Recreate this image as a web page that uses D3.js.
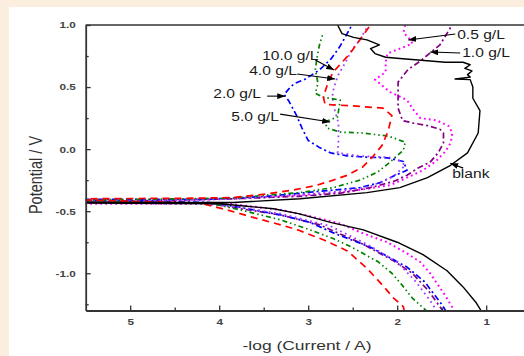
<!DOCTYPE html>
<html>
<head>
<meta charset="utf-8">
<script src="https://cdn.jsdelivr.net/npm/d3@7"></script>
<style>
  body { margin: 0; background: #fbeedf; }
  text { font-family: "Liberation Sans", Arial, sans-serif; }
</style>
</head>
<body>
<div id="chart"></div>
<script>
// Curvas de polarizacion: [-log(I/A), E/V], desde la rama catodica (abajo) hasta la anodica (arriba)
const blank = [[1.05,-1.31],[1.11,-1.24],[1.26,-1.11],[1.44,-0.98],[1.71,-0.85],[2.00,-0.75],[2.38,-0.65],[2.75,-0.59],[3.11,-0.52],[3.39,-0.48],[3.69,-0.46],[3.99,-0.44],[5.5,-0.435],
  [5.5,-0.43],[3.84,-0.43],[3.09,-0.40],[2.34,-0.35],[1.97,-0.31],[1.66,-0.23],[1.40,-0.13],[1.21,-0.03],[1.09,0.13],[1.07,0.31],[1.15,0.41],[1.15,0.50],[1.18,0.56],[1.35,0.565],[1.18,0.58],[1.21,0.60],[1.16,0.63],[1.24,0.65],[1.18,0.68],[1.26,0.70],[1.46,0.70],[1.97,0.73],[2.13,0.74],[2.25,0.77],[2.30,0.81],[2.20,0.84],[2.34,0.88],[2.49,0.90],[2.62,0.93],[2.67,1.0]];
const c05 = [[1.35,-1.31],[1.46,-1.18],[1.63,-1.00],[1.74,-0.91],[1.89,-0.84],[2.11,-0.75],[2.38,-0.68],[2.64,-0.60],[2.98,-0.54],[3.31,-0.49],[3.88,-0.44],[5.5,-0.44],
  [5.5,-0.435],[3.84,-0.40],[3.09,-0.37],[2.64,-0.35],[2.34,-0.32],[2.08,-0.29],[1.89,-0.23],[1.71,-0.17],[1.57,-0.10],[1.46,-0.02],[1.40,0.05],[1.38,0.13],[1.42,0.185],[1.55,0.23],[1.74,0.25],[1.81,0.31],[1.89,0.395],[2.08,0.46],[2.25,0.56],[2.13,0.62],[2.13,0.70],[2.11,0.77],[1.97,0.81],[1.83,0.85],[1.85,0.88],[1.93,0.94],[1.91,1.0]];
const c10 = [[1.48,-1.31],[1.52,-1.27],[1.65,-1.14],[1.83,-1.00],[2.04,-0.90],[2.40,-0.76],[2.87,-0.61],[3.31,-0.53],[3.76,-0.48],[4.10,-0.435],[5.5,-0.42],
  [5.5,-0.425],[3.84,-0.40],[3.09,-0.38],[2.64,-0.355],[2.30,-0.31],[2.04,-0.26],[1.89,-0.21],[1.76,-0.15],[1.63,-0.105],[1.54,-0.03],[1.48,0.05],[1.48,0.13],[1.52,0.16],[1.66,0.19],[1.82,0.21],[1.94,0.23],[1.99,0.33],[1.99,0.45],[1.99,0.54],[1.88,0.64],[1.74,0.71],[1.52,0.84],[1.40,0.98]];
const c20 = [[1.45,-1.31],[1.49,-1.26],[1.69,-1.07],[1.89,-0.95],[2.30,-0.79],[2.70,-0.68],[2.98,-0.59],[3.31,-0.53],[3.76,-0.47],[4.10,-0.43],[5.5,-0.41],
  [5.5,-0.405],[4.21,-0.405],[3.84,-0.395],[3.46,-0.38],[3.09,-0.355],[2.72,-0.33],[2.42,-0.31],[2.19,-0.27],[2.02,-0.21],[1.89,-0.17],[1.93,-0.10],[2.11,-0.07],[2.34,-0.065],[2.56,-0.055],[2.75,-0.03],[2.88,0.016],[3.00,0.07],[3.07,0.17],[3.13,0.27],[3.22,0.39],[3.27,0.44],[3.20,0.50],[3.15,0.53],[3.03,0.565],[2.87,0.64],[2.74,0.73],[2.65,0.82],[2.57,0.92],[2.51,1.0]];
const c40 = [[1.55,-1.31],[1.63,-1.22],[1.80,-1.06],[2.00,-0.91],[2.33,-0.77],[2.75,-0.62],[3.31,-0.52],[3.76,-0.47],[4.21,-0.44],[5.5,-0.435],
  [5.5,-0.43],[3.84,-0.40],[3.09,-0.37],[2.64,-0.34],[2.30,-0.30],[2.04,-0.22],[1.91,-0.13],[2.02,-0.07],[2.42,-0.055],[2.67,-0.03],[2.66,0.05],[2.66,0.21],[2.70,0.31],[2.73,0.42],[2.71,0.50],[2.66,0.60],[2.58,0.70],[2.51,0.80],[2.42,0.88],[2.34,0.98]];
const c50 = [[1.66,-1.31],[1.83,-1.20],[1.94,-1.10],[2.06,-1.00],[2.21,-0.91],[2.51,-0.79],[2.72,-0.72],[2.98,-0.65],[3.31,-0.57],[3.76,-0.49],[4.10,-0.435],[5.5,-0.42],
  [5.5,-0.41],[3.84,-0.395],[3.46,-0.37],[3.09,-0.35],[2.72,-0.31],[2.42,-0.25],[2.22,-0.185],[2.08,-0.105],[1.93,-0.008],[1.91,0.056],[2.10,0.105],[2.39,0.13],[2.64,0.137],[2.79,0.17],[2.81,0.22],[2.67,0.26],[2.64,0.395],[2.84,0.42],[2.92,0.45],[2.89,0.53],[2.92,0.64],[2.90,0.74],[2.87,0.85],[2.83,0.94]];
const c100 = [[1.92,-1.31],[1.93,-1.27],[2.04,-1.20],[2.16,-1.10],[2.34,-0.96],[2.56,-0.82],[2.83,-0.73],[3.12,-0.65],[3.31,-0.61],[3.62,-0.55],[3.91,-0.49],[4.21,-0.435],[5.5,-0.41],
  [5.5,-0.40],[4.21,-0.395],[3.84,-0.39],[3.46,-0.36],[3.17,-0.33],[2.90,-0.29],[2.72,-0.25],[2.56,-0.21],[2.39,-0.145],[2.28,-0.065],[2.17,0.03],[2.10,0.15],[2.06,0.27],[2.16,0.33],[2.53,0.35],[2.81,0.36],[2.83,0.42],[2.78,0.53],[2.72,0.62],[2.62,0.70],[2.53,0.77],[2.42,0.88],[2.30,1.0]];

// Nombres de las series
const seriesNames = ["blank", "0.5 g/L", "1.0 g/L", "2.0 g/L", "4.0 g/L", "5.0 g/L", "10.0 g/L"];

// Ticks
const xTicks = [5, 4, 3, 2, 1];
const xMinor = [4.5, 3.5, 2.5, 1.5];
const yTicks = [-1.0, -0.5, 0.0, 0.5, 1.0];
const yMinor = [-1.25, -0.75, -0.25, 0.25, 0.75];

// Etiquetas: texto [x,y], inicio flecha [x,y], punta flecha [x,y] en unidades de datos
const labelText = [[1.382,-0.202],[1.326,0.919],[1.270,0.774],[4.067,0.444],[3.663,0.629],[3.865,0.258],[3.517,0.750]];
const arrowFrom = [[1.258,-0.153],[1.348,0.927],[1.292,0.774],[3.461,0.427],[3.124,0.605],[3.315,0.282],[2.921,0.718]];
const arrowTo   = [[1.404,-0.113],[1.876,0.879],[1.629,0.782],[3.258,0.427],[2.697,0.565],[2.753,0.218],[2.708,0.637]];

const W = 524, H = 356;
const svg = d3.select("#chart").append("svg").attr("width", W).attr("height", H);

svg.append("rect").attr("width", W).attr("height", H).attr("fill", "#fbeedf");
svg.append("rect").attr("x", 9).attr("y", 7).attr("width", W).attr("height", H).attr("fill", "#fff");

const xS = d3.scaleLinear().domain([5.5, 0.5]).range([85.7, 530.7]);
const yS = d3.scaleLinear().domain([-1.3, 1.0]).range([310.5, 25]);

// estira el texto en horizontal (la imagen original esta ensanchada)
function stretch(sel, k) {
  sel.each(function() {
    const w = this.getComputedTextLength();
    d3.select(this).attr("textLength", w * k).attr("lengthAdjust", "spacingAndGlyphs");
  });
}

svg.append("clipPath").attr("id", "clip")
  .append("rect").attr("x", 85.7).attr("y", 25).attr("width", 445).attr("height", 285.5);

const styles = [
  {data: blank, color: "#000", dash: null, w: 1.4},
  {data: c05, color: "#ff00ff", dash: "1.8,3.2", w: 2},
  {data: c10, color: "#800080", dash: "6,3,2,3", w: 1.7},
  {data: c20, color: "#0000ff", dash: "6,3,2,3", w: 1.7},
  {data: c40, color: "#a040ff", dash: "1.8,3.5", w: 1.8},
  {data: c50, color: "#008000", dash: "5,3,1.5,3,1.5,3", w: 1.7},
  {data: c100, color: "#ff0000", dash: "7,5", w: 1.7}
];

const line = d3.line().x(d => xS(d[0])).y(d => yS(d[1]));

const curves = svg.append("g").attr("clip-path", "url(#clip)");
// se dibujan de atras hacia adelante, la blanca al final
styles.slice(1).concat([styles[0]]).forEach(s => {
  curves.append("path")
    .attr("d", line(s.data))
    .attr("fill", "none")
    .attr("stroke", s.color)
    .attr("stroke-width", s.w)
    .attr("stroke-dasharray", s.dash)
    .attr("stroke-linejoin", "round");
});

// Ejes
const axisColor = "#333";
svg.append("g").attr("transform", `translate(0,${yS(-1.3)})`)
  .call(d3.axisBottom(xS).tickValues(xTicks).tickFormat(d3.format("d")).tickSizeInner(-5).tickSizeOuter(0).tickPadding(8));
svg.append("g").attr("transform", `translate(0,${yS(-1.3)})`)
  .call(d3.axisBottom(xS).tickValues(xMinor).tickFormat("").tickSizeInner(-3).tickSizeOuter(0))
  .select(".domain").remove();

svg.append("g").attr("transform", `translate(${xS(5.5)},0)`)
  .call(d3.axisLeft(yS).tickValues(yTicks).tickFormat(d => d.toFixed(1)).tickSizeInner(-5).tickSizeOuter(0).tickPadding(10));
svg.append("g").attr("transform", `translate(${xS(5.5)},0)`)
  .call(d3.axisLeft(yS).tickValues(yMinor).tickFormat("").tickSizeInner(-3).tickSizeOuter(0))
  .select(".domain").remove();

svg.selectAll(".domain").attr("stroke", axisColor).attr("stroke-width", 1.8);
svg.selectAll(".tick line").attr("stroke", axisColor).attr("stroke-width", 1.3);
svg.selectAll(".tick text")
  .attr("fill", "#444").attr("font-size", 9).attr("font-weight", "bold")
  .attr("font-family", "'Liberation Sans', Arial, sans-serif")
  .call(stretch, 1.3);

// Borde superior
svg.append("line")
  .attr("x1", xS(5.5)).attr("x2", W).attr("y1", yS(1.0)).attr("y2", yS(1.0))
  .attr("stroke", axisColor).attr("stroke-width", 1.5);

// Titulos de ejes
svg.append("text")
  .attr("x", 307).attr("y", 350)
  .attr("text-anchor", "middle").attr("font-size", 12).attr("fill", "#333")
  .text("-log (Current / A)")
  .attr("textLength", 129).attr("lengthAdjust", "spacingAndGlyphs");

svg.append("g").attr("transform", "translate(35,175) scale(1.3,1) rotate(-90)")
  .append("text")
  .attr("text-anchor", "middle").attr("dy", "0.35em")
  .attr("font-size", 14.5).attr("fill", "#333")
  .text("Potential / V");

// Flechas y etiquetas
svg.append("defs").append("marker")
  .attr("id", "head").attr("markerUnits", "userSpaceOnUse")
  .attr("markerWidth", 8).attr("markerHeight", 6)
  .attr("refX", 8).attr("refY", 3).attr("orient", "auto")
  .append("path").attr("d", "M0,0L8,3L0,6Z").attr("fill", "#000");

seriesNames.forEach((name, i) => {
  svg.append("line")
    .attr("x1", xS(arrowFrom[i][0])).attr("y1", yS(arrowFrom[i][1]))
    .attr("x2", xS(arrowTo[i][0])).attr("y2", yS(arrowTo[i][1]))
    .attr("stroke", "#000").attr("stroke-width", 1.1)
    .attr("marker-end", "url(#head)");
  svg.append("text")
    .attr("x", xS(labelText[i][0])).attr("y", yS(labelText[i][1]))
    .attr("dy", "0.35em").attr("font-size", 12).attr("fill", "#1a1a1a")
    .text(name)
    .call(stretch, 1.3);
});
</script>
</body>
</html>
